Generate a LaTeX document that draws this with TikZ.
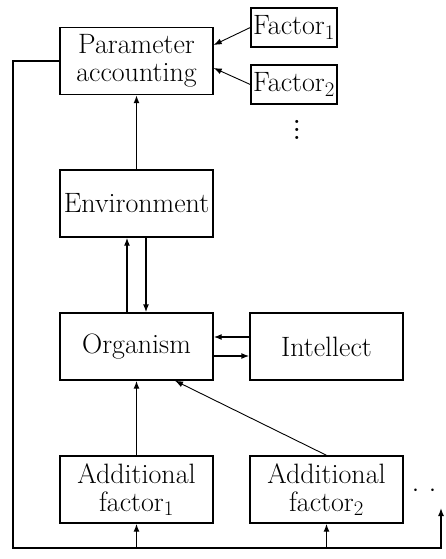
\documentclass[tikz,border=0pt]{standalone}
\usetikzlibrary{arrows.meta}
\newcommand\myvdots{\vbox{\baselineskip8pt\lineskiplimit0pt\hbox{.}\hbox{.}\hbox{.}}}
\begin{document}
\begin{tikzpicture}[x=1pt,y=-1pt,
  every node/.style={font=\fontsize{28}{28}\selectfont},
  bigbox/.style={draw,line width=1.4pt,minimum width=153pt,minimum height=67pt,align=center,inner sep=1pt},
  smallbox/.style={draw,line width=1.4pt,minimum width=86pt,minimum height=39pt,inner sep=0pt},
  arr/.style={line width=1.4pt,-{Latex[length=8pt,width=6pt]}},
  thinarr/.style={line width=0.9pt,-{Latex[length=8pt,width=6pt]}}]
\useasboundingbox (0,0) rectangle (446,559);
\node[bigbox] (param) at (136.5,61) {Parameter\\accounting};
\node[bigbox] (env) at (136.5,203.5) {Environment};
\node[bigbox] (org) at (136.5,346.5) {Organism};
\node[bigbox] (intel) at (326.5,346.5) {Intellect};
\node[bigbox] (add1) at (136.5,489.5) {Additional\\factor$_1$};
\node[bigbox] (add2) at (326.5,489.5) {Additional\\factor$_2$};
\node[smallbox] (f1) at (294,27.5) {Factor$_1$};
\node[smallbox] (f2) at (294,84.5) {Factor$_2$};
\node[inner sep=0pt,font=\fontsize{38}{8}\selectfont] (vd) at (297,130) {\myvdots};
\node[anchor=west,inner sep=0pt,font=\fontsize{38}{38}\selectfont] (hd) at (412,491) {${\cdot}\hspace{10pt}{\cdot}$};
\coordinate (bl) at (13,548);
\coordinate (br) at (441,548);
\coordinate (brend) at (441,508);
% connectors
\draw[thinarr] (f1.west) -- ([yshift=16pt]param.east);
\draw[thinarr] (f2.west) -- ([yshift=-7pt]param.east);
\draw[arr] (env.north) -- (param.south);
\draw[arr] ([xshift=-9.5pt]org.north) -- ([xshift=-9.5pt]env.south);
\draw[arr] ([xshift=9.5pt]env.south) -- ([xshift=9.5pt]org.north);
\draw[arr] ([yshift=9.5pt]intel.west) -- ([yshift=9.5pt]org.east);
\draw[arr] ([yshift=-9.5pt]org.east) -- ([yshift=-9.5pt]intel.west);
\draw[arr] (add1.north) -- (org.south);
\draw[thinarr] (add2.north) -- ([xshift=38.5pt]org.south);
\draw[arr] (param.west) -| (bl) -- (br) -- (brend);
\draw[arr] (add1.south |- bl) -- (add1.south);
\draw[arr] (add2.south |- bl) -- (add2.south);
\end{tikzpicture}
\end{document}
